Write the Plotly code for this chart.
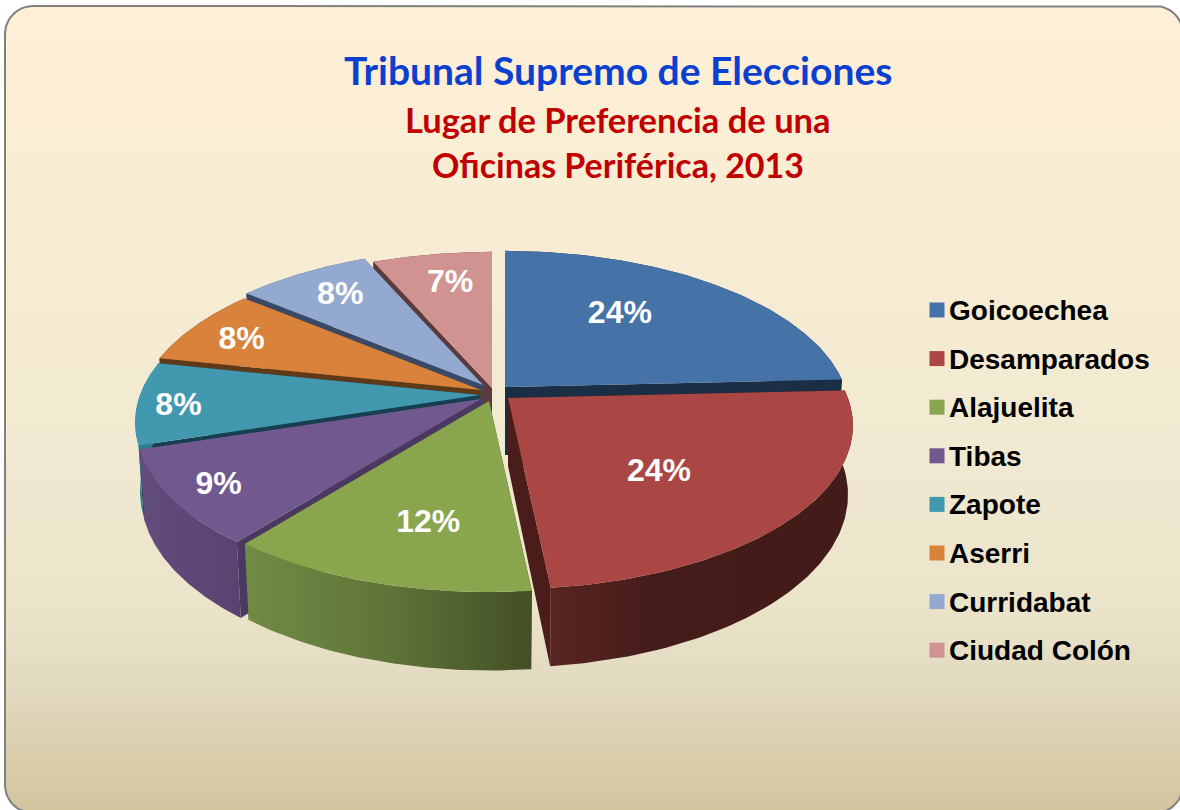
import math
import numpy as np
import plotly.graph_objects as go

# ---- data ----
categories = ["Goicoechea", "Desamparados", "Alajuelita", "Tibas", "Zapote", "Aserri", "Curridabat", "Ciudad Colón"]
values = [24.25, 24.1, 12.4, 9.4, 8.2, 7.7, 7.4, 6.6]
percent_labels = ["24%", "24%", "12%", "9%", "8%", "8%", "8%", "7%"]
title_main = "Tribunal Supremo de Elecciones"
title_sub = ["Lugar de Preferencia de una", "Oficinas Periférica, 2013"]

# ---- styles ----
top_colors = ["#4572A7", "#AA4643", "#89A54E", "#71588F", "#4198AF", "#D8823B", "#93A9CF", "#D19392"]
wall_colors = ["#1A2E45", "#4A1C1A", "#4A5C2A", "#4B3860", "#16404F", "#5E3A18", "#3A4A66", "#5A3A3A"]
rim_scales = [
    ["#1A2E45", "#1A2E45"],
    ["#582422", "#451C1A", "#431B19", "#431B19"],
    ["#708C46", "#5F7438", "#434F26"],
    ["#634D7C", "#5A4270"],
    ["#2E7C8C", "#2E7C8C"],
    ["#5E3A18", "#5E3A18"],
    ["#3A4A66", "#3A4A66"],
    ["#5A3A3A", "#5A3A3A"],
]
pull_x = [13, 16, -3, -11, -12, -11, -9, 0]
pull_y = [-6, 5, 8, 6, 2, -3, -8, -5]
label_rho = [.63, .59, .69, .86, .88, .82, .79, .77]
label_dtheta = [-8, 5, -3, 0, -1, -1, 1, 1.5]
draw_order = [7, 6, 0, 5, 4, 3, 2, 1]
CX, CY, A, B, K, H, D = 492, 393, 340, 159, .168, 69, .014
LABEL_DROP = 3
LEGEND_X, LEGEND_TEXT_X, LEGEND_Y, LEGEND_STEP, LEGEND_TEXT_DROP = 937, 949, 310, 48.6, 3


def project(rho, deg, slice_i, bottom=False):
    th = np.radians(deg)
    u, v = rho * np.sin(th), -rho * np.cos(th)
    w = 1 - K * v + (D if bottom else 0)
    return (CX + pull_x[slice_i] + A * u / w,
            CY + pull_y[slice_i] + (B * v + (H if bottom else 0)) / w)


def polygon(xs, ys, **kw):
    return go.Scatter(x=list(xs) + [xs[0]], y=list(ys) + [ys[0]], mode="lines", fill="toself",
                      line=dict(width=0), hoverinfo="skip", showlegend=False, **kw)


def solid(color):
    return dict(fillcolor=color)


def hgrad(colors):
    n = len(colors) - 1
    return dict(fillgradient=dict(type="horizontal",
                                  colorscale=[[i / n, c] for i, c in enumerate(colors)]))


fig = go.Figure()

# rounded panel with vertical gradient
L, T, R_, Bt, r = 5, 6, 1183, 813, 28
corners = [(L + r, T + r, 180, 270), (R_ - r, T + r, 270, 360), (R_ - r, Bt - r, 0, 90), (L + r, Bt - r, 90, 180)]
px, py = [], []
for cx, cy, a0, a1 in corners:
    for a in np.linspace(a0, a1, 16):
        px.append(cx + r * math.cos(math.radians(a)))
        py.append(cy + r * math.sin(math.radians(a)))
fig.add_trace(go.Scatter(
    x=px + px[:1], y=py + py[:1], mode="lines", fill="toself",
    line=dict(color="#808080", width=2), hoverinfo="skip", showlegend=False,
    fillgradient=dict(type="vertical", colorscale=[
        [0, "#D3C49E"], [.16, "#E2DAC0"], [.26, "#EBE4CB"], [.45, "#F1E9D1"], [1, "#FEF0D6"]])))

# slices
angles = np.cumsum([0] + values) / sum(values) * 360
for i in draw_order:
    a0, a1 = angles[i], angles[i + 1]
    arc = np.linspace(a0, a1, 90)
    tx, ty = project(1, arc, i)
    bx, by = project(1, arc, i, bottom=True)
    ax, ay = project(0, 0, i)
    ax2, ay2 = project(0, 0, i, bottom=True)
    for e in (0, -1):
        fig.add_trace(polygon([ax, tx[e], bx[e], ax2], [ay, ty[e], by[e], ay2], **solid(wall_colors[i])))
    fig.add_trace(polygon(np.r_[tx, bx[::-1]], np.r_[ty, by[::-1]], **hgrad(rim_scales[i])))
    fig.add_trace(polygon(np.r_[ax, tx], np.r_[ay, ty], **solid(top_colors[i])))

# percentage labels
for i, label in enumerate(percent_labels):
    mid = (angles[i] + angles[i + 1]) / 2 + label_dtheta[i]
    lx, ly = project(label_rho[i], mid, i)
    fig.add_trace(go.Scatter(x=[lx], y=[ly + LABEL_DROP], mode="text", text=[label], hoverinfo="skip", showlegend=False,
                             textfont=dict(family="Liberation Sans", size=32, color="white", weight="bold")))

# legend entries: square swatch followed by bold text
for i, name in enumerate(categories):
    y = LEGEND_Y + LEGEND_STEP * i
    fig.add_trace(go.Scatter(x=[LEGEND_X], y=[y], mode="markers", name=name, hoverinfo="name", showlegend=False,
                             marker=dict(symbol="square", size=15, color=top_colors[i])))
    fig.add_trace(go.Scatter(x=[LEGEND_TEXT_X], y=[y + LEGEND_TEXT_DROP], mode="text", text=[name],
                             textposition="middle right", hoverinfo="skip", showlegend=False,
                             textfont=dict(family="Liberation Sans", size=28, color="black", weight="bold")))

fig.add_annotation(x=618, y=70, text=title_main, showarrow=False,
                   font=dict(family="Lato", size=39, color="#0B3FD0", weight="bold"))
fig.add_annotation(x=618, y=119, text=title_sub[0], showarrow=False,
                   font=dict(family="Lato", size=34.5, color="#C00000", weight="bold"))
fig.add_annotation(x=618, y=164, text=title_sub[1], showarrow=False,
                   font=dict(family="Lato", size=34, color="#C00000", weight="bold"))

fig.update_layout(
    width=1180, height=810, margin=dict(l=0, r=0, t=0, b=0),
    paper_bgcolor="white", plot_bgcolor="rgba(0,0,0,0)", showlegend=False,
    xaxis=dict(range=[0, 1180], visible=False, fixedrange=True),
    yaxis=dict(range=[810, 0], visible=False, fixedrange=True),
)
fig.write_html("out.html", config={"displayModeBar": False},
               post_script="document.body.style.margin='0';document.body.style.overflow='hidden';")
